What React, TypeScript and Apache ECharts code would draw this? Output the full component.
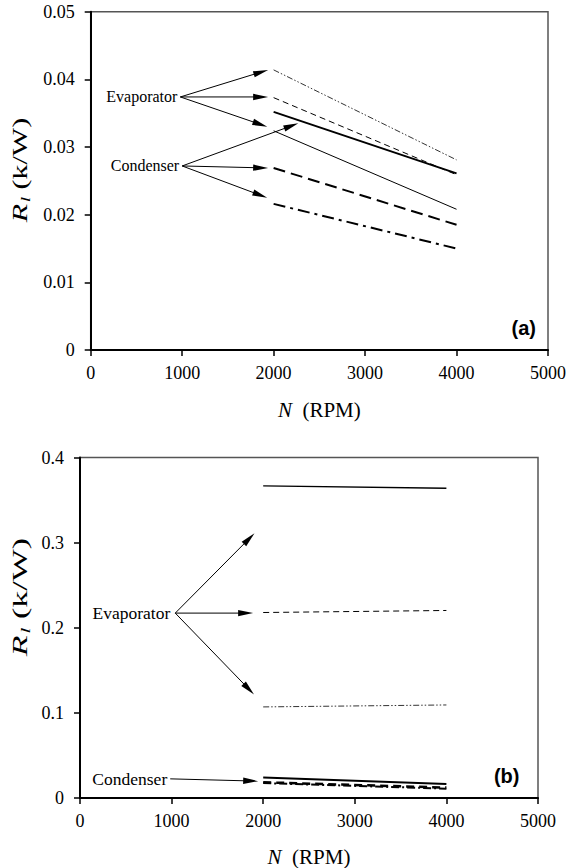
import React, { useEffect, useRef } from 'react';
import * as echarts from 'echarts';

const SERIF = 'Liberation Serif';
const SANS = 'Liberation Sans';

// shared x values (RPM)
const rpm = [2000, 4000];

// panel (a)
const aEvapDashDotDot = [0.0414, 0.0281];
const aEvapDashed = [0.0373, 0.0259];
const aEvapSolid = [0.0324, 0.0208];
const aCondSolid = [0.0352, 0.0261];
const aCondDashed = [0.0269, 0.0185];
const aCondDashDot = [0.0216, 0.015];

// panel (b)
const bEvapSolid = [0.3666, 0.3639];
const bEvapDashed = [0.2179, 0.2203];
const bEvapDashDotDot = [0.107, 0.1093];
const bCondSolid = [0.024, 0.0165];
const bCondDashed = [0.0185, 0.0122];
const bCondDashDot = [0.0175, 0.011];

// axes
const xMin = 0;
const xMax = 5000;
const xStep = 1000;
const aYMax = 0.05;
const aYStep = 0.01;
const bYMax = 0.4;
const bYStep = 0.1;

// annotations (arrow origin -> arrow tips), in data units
const aEvapFrom = [980, 0.0374];
const aEvapTips = [[1940, 0.0414], [1940, 0.0374], [1930, 0.033]];
const aCondFrom = [1000, 0.0272];
const aCondTips = [[2270, 0.0335], [1940, 0.0269], [1930, 0.0225]];
const bEvapFrom = [1040, 0.2172];
const bEvapTips = [[1905, 0.311], [1890, 0.2172], [1900, 0.1216]];
const bCondFrom = [985, 0.0225];
const bCondTips = [[1945, 0.0198]];

const labelNames = ['Evaporator', 'Condenser'];

const pts = (ys: number[]) => rpm.map((x, i) => [x, ys[i]]);

const lineS = (gi: number, ys: number[], width: number, type: any, color = '#000') => ({
  type: 'line',
  xAxisIndex: gi,
  yAxisIndex: gi,
  data: pts(ys),
  symbol: 'none',
  silent: true,
  lineStyle: { color, width, type },
});

const arrowS = (gi: number, from: number[], tips: number[][]) => ({
  type: 'custom',
  coordinateSystem: 'cartesian2d',
  xAxisIndex: gi,
  yAxisIndex: gi,
  silent: true,
  clip: false,
  data: tips.map((t) => [from[0], from[1], t[0], t[1]]),
  encode: { x: [0, 2], y: [1, 3] },
  renderItem: (_p: any, api: any) => {
    const p0 = api.coord([api.value(0), api.value(1)]);
    const p1 = api.coord([api.value(2), api.value(3)]);
    const dx = p1[0] - p0[0];
    const dy = p1[1] - p0[1];
    const len = Math.hypot(dx, dy) || 1;
    const ux = dx / len;
    const uy = dy / len;
    const L = 15;
    const W = 3.2;
    const bx = p1[0] - ux * L;
    const by = p1[1] - uy * L;
    return {
      type: 'group',
      children: [
        {
          type: 'line',
          shape: { x1: p0[0], y1: p0[1], x2: bx + ux * 3, y2: by + uy * 3 },
          style: { stroke: '#000', lineWidth: 1 },
        },
        {
          type: 'polygon',
          shape: {
            points: [
              [p1[0], p1[1]],
              [bx - uy * W, by + ux * W],
              [bx + uy * W, by - ux * W],
            ],
          },
          style: { fill: '#000' },
        },
      ],
    };
  },
});

const labelS = (gi: number, at: number[][], fontSize: number, gaps: number[]) => ({
  type: 'custom',
  coordinateSystem: 'cartesian2d',
  xAxisIndex: gi,
  yAxisIndex: gi,
  silent: true,
  clip: false,
  data: at,
  renderItem: (params: any, api: any) => {
    const p = api.coord([api.value(0), api.value(1)]);
    return {
      type: 'text',
      x: p[0] - gaps[params.dataIndex],
      y: p[1],
      style: {
        text: labelNames[params.dataIndex],
        fill: '#000',
        fontSize,
        fontFamily: SERIF,
        align: 'right',
        verticalAlign: 'middle',
        textAlign: 'right',
        textVerticalAlign: 'middle',
      },
    };
  },
});

const xAxisOf = (gi: number, nameGap: number) => ({
  type: 'value',
  gridIndex: gi,
  min: xMin,
  max: xMax,
  interval: xStep,
  axisLine: { show: true, onZero: false, lineStyle: { color: '#000', width: 2 } },
  axisTick: { show: true, inside: false, length: 6, lineStyle: { color: '#000', width: 1.5 } },
  splitLine: { show: false },
  axisLabel: { color: '#000', fontSize: 18, fontFamily: SERIF, margin: 14, formatter: (v: number) => String(v) },
  name: '{i|N}{n|  (RPM)}',
  nameLocation: 'middle',
  nameGap,
  nameTextStyle: {
    fontFamily: SERIF,
    rich: {
      i: { fontStyle: 'italic', fontSize: 21, fontFamily: SERIF, color: '#000' },
      n: { fontSize: 21, fontFamily: SERIF, color: '#000' },
    },
  },
});

const yAxisOf = (gi: number, max: number, step: number) => ({
  type: 'value',
  gridIndex: gi,
  min: 0,
  max,
  interval: step,
  axisLine: { show: true, onZero: false, lineStyle: { color: '#000', width: 2 } },
  axisTick: { show: true, inside: false, length: 6, lineStyle: { color: '#000', width: 1.5 } },
  splitLine: { show: false },
  axisLabel: { color: '#000', fontSize: 18, fontFamily: SERIF, margin: 16, formatter: (v: number) => String(Math.round(v * 1000) / 1000) },
});

const yTitle = (x: number, y: number, scale: number) => ({
  type: 'text',
  x,
  y,
  rotation: Math.PI / 2,
  scaleX: scale,
  silent: true,
  style: {
    text: '{i|R}{s|l}{n| (k/W)}',
    align: 'center',
    verticalAlign: 'middle',
    textAlign: 'center',
    textVerticalAlign: 'middle',
    fill: '#000',
    fontFamily: SERIF,
    fontSize: 20,
    rich: {
      i: { fontStyle: 'italic', fontSize: 20, fontFamily: SERIF, fill: '#000', lineHeight: 24 },
      s: { fontStyle: 'italic', fontSize: 13, fontFamily: SERIF, fill: '#000', lineHeight: 13, verticalAlign: 'bottom', padding: [6, 0, 0, 1] },
      n: { fontSize: 20, fontFamily: SERIF, fill: '#000', lineHeight: 24 },
    },
  },
});

export default function App() {
  const ref = useRef<HTMLDivElement>(null);
  useEffect(() => {
    if (!ref.current) return;
    const chart = echarts.init(ref.current, null, { renderer: 'svg' });
    const dashDotDot = [6, 2, 1.5, 2, 1.5, 2];
    const option: any = {
      animation: false,
      backgroundColor: '#fff',
      textStyle: { fontFamily: SERIF },
      grid: [
        { left: 90.7, top: 11.7, width: 457.3, height: 338.3, show: true, borderColor: '#555', borderWidth: 1.5, backgroundColor: 'transparent' },
        { left: 80, top: 457.5, width: 458, height: 341, show: true, borderColor: '#555', borderWidth: 1.5, backgroundColor: 'transparent' },
      ],
      xAxis: [xAxisOf(0, 49), xAxisOf(1, 48)],
      yAxis: [yAxisOf(0, aYMax, aYStep), yAxisOf(1, bYMax, bYStep)],
      series: [
        lineS(0, aEvapDashDotDot, 1, dashDotDot, '#333'),
        lineS(0, aEvapDashed, 1, [6, 4]),
        lineS(0, aEvapSolid, 1, 'solid'),
        lineS(0, aCondSolid, 2, 'solid'),
        lineS(0, aCondDashed, 2, [12, 6]),
        lineS(0, aCondDashDot, 2, [12, 5, 3, 5]),
        lineS(1, bEvapSolid, 1.3, 'solid'),
        lineS(1, bEvapDashed, 1, [6, 4]),
        lineS(1, bEvapDashDotDot, 1, dashDotDot, '#333'),
        lineS(1, bCondSolid, 2, 'solid'),
        lineS(1, bCondDashed, 2.5, [8, 5]),
        lineS(1, bCondDashDot, 2, [8, 3, 2, 3]),
        arrowS(0, aEvapFrom, aEvapTips),
        arrowS(0, aCondFrom, aCondTips),
        arrowS(1, bEvapFrom, bEvapTips),
        arrowS(1, bCondFrom, bCondTips),
        labelS(0, [aEvapFrom, aCondFrom], 16, [3, 3]),
        labelS(1, [bEvapFrom, bCondFrom], 17.5, [5, 3]),
      ],
      graphic: [
        yTitle(20, 170, 1.5),
        yTitle(20.5, 597, 1.7),
        {
          type: 'text',
          x: 523.7,
          y: 328,
          silent: true,
          style: { text: '(a)', fill: '#000', fontSize: 20, fontWeight: 'bold', fontFamily: SANS, align: 'center', verticalAlign: 'middle', textAlign: 'center', textVerticalAlign: 'middle' },
        },
        {
          type: 'text',
          x: 506.7,
          y: 776,
          silent: true,
          style: { text: '(b)', fill: '#000', fontSize: 20, fontWeight: 'bold', fontFamily: SANS, align: 'center', verticalAlign: 'middle', textAlign: 'center', textVerticalAlign: 'middle' },
        },
      ],
    };
    chart.setOption(option);
    return () => chart.dispose();
  }, []);
  return <div ref={ref} style={{ position: 'absolute', left: 0, top: 0, width: 579, height: 868 }} />;
}
